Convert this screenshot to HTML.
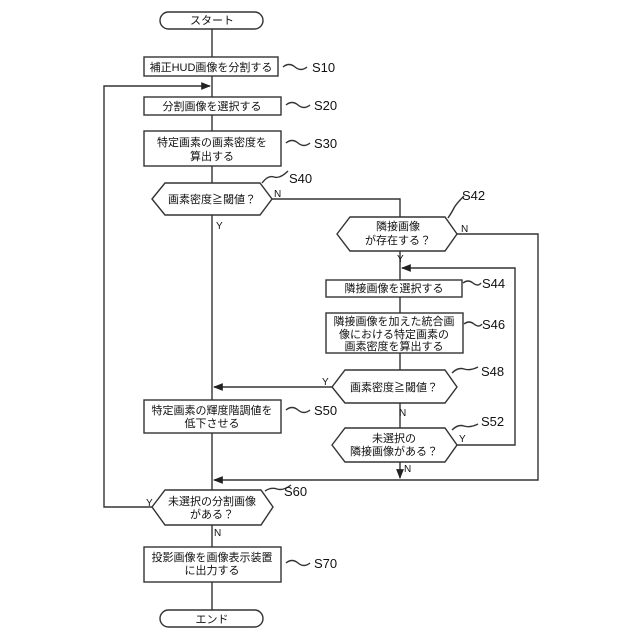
<!DOCTYPE html>
<html><head><meta charset="utf-8"><style>
html,body{margin:0;padding:0;background:#fff;}
svg{display:block;}
text{font-family:"Liberation Sans","Noto Sans CJK JP",sans-serif;fill:#111;}
.t{font-size:11px;text-anchor:middle;}
.l{font-size:13px;}
.yn{font-size:10px;}
</style></head><body>
<svg width="640" height="640" viewBox="0 0 640 640" xmlns="http://www.w3.org/2000/svg">
<defs><marker id="a" viewBox="0 0 10 10" refX="9" refY="5" markerWidth="7" markerHeight="7" orient="auto"><path d="M0,1 L10,5 L0,9 z" fill="#222"/></marker></defs>
<g stroke="#333" stroke-width="1.4" fill="none">
<line x1="212" y1="28" x2="212" y2="57"/>
<line x1="212" y1="76" x2="212" y2="97"/>
<line x1="212" y1="115" x2="212" y2="131"/>
<line x1="212" y1="166" x2="212" y2="183"/>
<line x1="212" y1="215" x2="212" y2="400"/>
<line x1="212" y1="433" x2="212" y2="490"/>
<line x1="212" y1="525" x2="212" y2="547"/>
<line x1="212" y1="582" x2="212" y2="610"/>
<polyline points="152,507 104,507 104,86 210,86" marker-end="url(#a)"/>
<polyline points="272,199 400,199 400,217"/>
<polyline points="457,234 538,234 538,480 214,480" marker-end="url(#a)"/>
<line x1="400" y1="251" x2="400" y2="280"/>
<line x1="400" y1="297" x2="400" y2="313"/>
<line x1="400" y1="353" x2="400" y2="370"/>
<line x1="400" y1="403" x2="400" y2="428"/>
<line x1="400" y1="462" x2="400" y2="478" marker-end="url(#a)"/>
<polyline points="457,445 515,445 515,268 402,268" marker-end="url(#a)"/>
<polyline points="332,387 214,387" marker-end="url(#a)"/>
<rect x="160" y="12" width="103" height="17" rx="8.5" fill="#fff"/>
<rect x="160" y="610" width="103" height="17" rx="8.5" fill="#fff"/>
<rect x="144" y="57" width="134" height="19" fill="#fff"/>
<rect x="144" y="97" width="137" height="18" fill="#fff"/>
<rect x="144" y="131" width="137" height="35" fill="#fff"/>
<rect x="144" y="400" width="137" height="33" fill="#fff"/>
<rect x="144" y="547" width="137" height="35" fill="#fff"/>
<rect x="326" y="280" width="136" height="17" fill="#fff"/>
<rect x="326" y="313" width="137" height="40" fill="#fff"/>
<polygon points="152,199 165,183 260,183 272,199 260,215 165,215" fill="#fff"/>
<polygon points="337,234 350,217 445,217 457,234 445,251 350,251" fill="#fff"/>
<polygon points="332,387 345,370 445,370 457,387 445,403 345,403" fill="#fff"/>
<polygon points="332,445 345,428 445,428 457,445 445,462 345,462" fill="#fff"/>
<polygon points="152,507 165,490 261,490 273,507 261,525 165,525" fill="#fff"/>
<path d="M283,67 q6,-5 12,0 t12,0"/>
<path d="M286,105 q6,-5 12,0 t12,0"/>
<path d="M286,143 q6,-5 12,0 t12,0"/>
<path d="M286,410 q6,-5 12,0 t12,0"/>
<path d="M286,563 q6,-5 12,0 t12,0"/>
<path d="M463,283 q5,-4 10,0 t8,0"/>
<path d="M464,324 q5,-4 10,0 t8,0"/>
<path d="M262,183 q6,-8 12,-6 t14,-6"/>
<path d="M448,218 q4,-6 6,-10 t10,-12"/>
<path d="M452,373 q6,-6 12,-4 t14,-2"/>
<path d="M452,430 q6,-6 12,-4 t14,-2"/>
<path d="M265,491 q6,-4 12,-2 t14,-4"/>
</g>
<text class="t" x="212" y="24">スタート</text>
<text class="t" x="211" y="71">補正HUD画像を分割する</text>
<text class="t" x="212" y="110">分割画像を選択する</text>
<text class="t" x="212" y="146">特定画素の画素密度を</text>
<text class="t" x="212" y="160">算出する</text>
<text class="t" x="212" y="203">画素密度≧閾値？</text>
<text class="t" x="398" y="230">隣接画像</text>
<text class="t" x="398" y="244">が存在する？</text>
<text class="t" x="394" y="292">隣接画像を選択する</text>
<text class="t" x="394" y="325">隣接画像を加えた統合画</text>
<text class="t" x="394" y="338">像における特定画素の</text>
<text class="t" x="394" y="350">画素密度を算出する</text>
<text class="t" x="394" y="391">画素密度≧閾値？</text>
<text class="t" x="394" y="442">未選択の</text>
<text class="t" x="394" y="455">隣接画像がある？</text>
<text class="t" x="212" y="414">特定画素の輝度階調値を</text>
<text class="t" x="212" y="427">低下させる</text>
<text class="t" x="212" y="505">未選択の分割画像</text>
<text class="t" x="212" y="518">がある？</text>
<text class="t" x="212" y="561">投影画像を画像表示装置</text>
<text class="t" x="212" y="574">に出力する</text>
<text class="t" x="212" y="623">エンド</text>
<text class="l" x="312" y="72">S10</text>
<text class="l" x="314" y="110">S20</text>
<text class="l" x="314" y="148">S30</text>
<text class="l" x="289" y="183">S40</text>
<text class="l" x="462" y="200">S42</text>
<text class="l" x="482" y="288">S44</text>
<text class="l" x="482" y="329">S46</text>
<text class="l" x="481" y="376">S48</text>
<text class="l" x="314" y="415">S50</text>
<text class="l" x="481" y="426">S52</text>
<text class="l" x="284" y="496">S60</text>
<text class="l" x="314" y="568">S70</text>
<text class="yn" x="274" y="197">N</text>
<text class="yn" x="216" y="229">Y</text>
<text class="yn" x="461" y="232">N</text>
<text class="yn" x="397" y="262">Y</text>
<text class="yn" x="322" y="385">Y</text>
<text class="yn" x="399" y="416">N</text>
<text class="yn" x="459" y="442">Y</text>
<text class="yn" x="404" y="472">N</text>
<text class="yn" x="146" y="506">Y</text>
<text class="yn" x="214" y="536">N</text>
</svg>
</body></html>
